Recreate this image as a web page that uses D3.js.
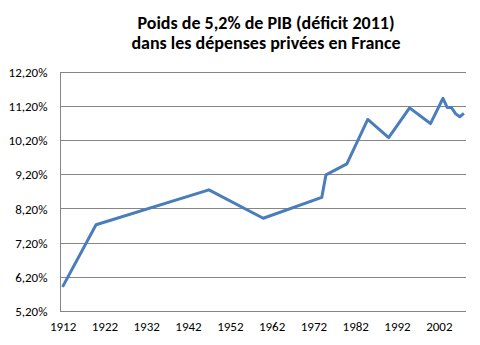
<!DOCTYPE html>
<html><head><meta charset="utf-8">
<script src="https://cdn.jsdelivr.net/npm/d3@7"></script>
<style>body{margin:0;background:#fff}</style>
</head><body>
<script>
const years = [1912,1920,1947,1960,1974,1975,1980,1985,1990,1995,2000,2003,2004,2005,2006,2007,2008];
const values = [5.92,7.74,8.76,7.93,8.54,9.20,9.52,10.82,10.29,11.16,10.70,11.44,11.17,11.17,10.99,10.90,11.00];
const yTicks = [5.2,6.2,7.2,8.2,9.2,10.2,11.2,12.2];
const xTicks = [1912,1922,1932,1942,1952,1962,1972,1982,1992,2002];
const titleLines = ["Poids de 5,2% de PIB (déficit 2011)","dans les dépenses privées en France"];

const W=480,H=345;
const svg=d3.select("body").append("svg").attr("width",W).attr("height",H);
const L=60.5,R=466,T=72.3,B=311.5;
const x=d3.scaleLinear().domain([1911.5,2008.5]).range([L,R]);
const y=d3.scaleLinear().domain([5.2,12.2]).range([B,T]);
const font="Carlito, Calibri, Lato, 'Open Sans', sans-serif";

svg.append("g").selectAll("line").data(yTicks).join("line")
  .attr("x1",L).attr("x2",R).attr("y1",d=>y(d)).attr("y2",d=>y(d))
  .attr("stroke","#868686").attr("stroke-width",1).attr("shape-rendering","crispEdges");
svg.append("line").attr("x1",L).attr("x2",L).attr("y1",T).attr("y2",B)
  .attr("stroke","#868686").attr("shape-rendering","crispEdges");

const fmt=d=>d.toFixed(2).replace(".",",")+"%";
const yAxis=d3.axisLeft(y).tickValues(yTicks).tickFormat(fmt).tickSize(0).tickPadding(13);
const gy=svg.append("g").attr("transform",`translate(${L},0)`).call(yAxis);
gy.select(".domain").remove();
gy.selectAll("text").attr("font-family",font).attr("font-size",13).attr("fill","#000");

const xAxis=d3.axisBottom(x).tickValues(xTicks).tickFormat(d3.format("d")).tickSize(0).tickPadding(10);
const gx=svg.append("g").attr("transform",`translate(0,${B})`).call(xAxis);
gx.select(".domain").remove();
gx.selectAll("text").attr("font-family",font).attr("font-size",13).attr("fill","#000");

const line=d3.line().x((d,i)=>x(years[i])).y(d=>y(d));
svg.append("path").datum(values).attr("d",line).attr("fill","none")
  .attr("stroke","#4a7ebb").attr("stroke-width",3).attr("stroke-linejoin","round");

svg.append("g").selectAll("text").data(titleLines).join("text")
  .attr("x",266).attr("y",(d,i)=>29+i*20).attr("text-anchor","middle")
  .attr("font-family",font).attr("font-weight","bold").attr("font-size",18).attr("fill","#000")
  .text(d=>d);
</script>
</body></html>
